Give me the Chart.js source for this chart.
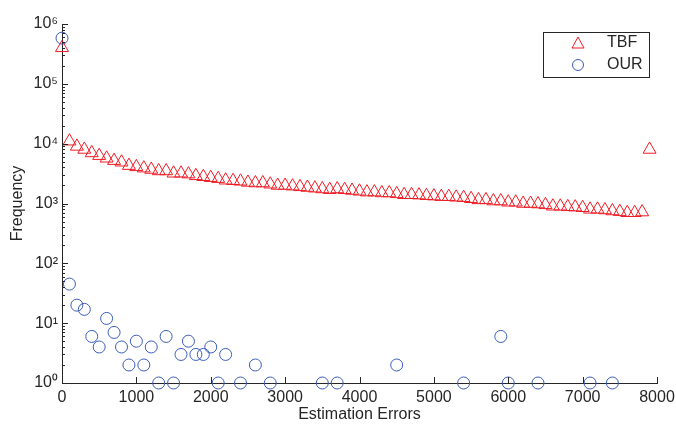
<!DOCTYPE html>
<html>
<head>
<meta charset="utf-8">
<script src="https://cdn.jsdelivr.net/npm/chart.js@4"></script>
<style>
  body { margin: 0; background: #fff; }
  #wrap { width: 676px; height: 424px; }
</style>
</head>
<body>
<div id="wrap"><canvas id="freq"></canvas></div>
<script>
// estimation error bins (x) and counts per method
var tbfErrors = [
    0, 100, 200, 300, 400, 500, 600, 700, 800, 900,
    1000, 1100, 1200, 1300, 1400, 1500, 1600, 1700, 1800, 1900,
    2000, 2100, 2200, 2300, 2400, 2500, 2600, 2700, 2800, 2900,
    3000, 3100, 3200, 3300, 3400, 3500, 3600, 3700, 3800, 3900,
    4000, 4100, 4200, 4300, 4400, 4500, 4600, 4700, 4800, 4900,
    5000, 5100, 5200, 5300, 5400, 5500, 5600, 5700, 5800, 5900,
    6000, 6100, 6200, 6300, 6400, 6500, 6600, 6700, 6800, 6900,
    7000, 7100, 7200, 7300, 7400, 7500, 7600, 7700, 7800, 7900
];
var tbfCounts = [
    400000, 11000, 9000, 8000, 7000, 6300, 5700, 5200, 4900, 4300,
    4100, 3900, 3700, 3500, 3500, 3200, 3200, 3100, 2900, 2800,
    2700, 2600, 2450, 2400, 2350, 2250, 2200, 2200, 2100, 2000,
    2000, 1950, 1900, 1850, 1800, 1750, 1700, 1750, 1700, 1650,
    1600, 1550, 1550, 1500, 1500, 1450, 1400, 1400, 1380, 1350,
    1330, 1300, 1300, 1270, 1250, 1200, 1150, 1150, 1100, 1100,
    1050, 1050, 1000, 1000, 980, 950, 900, 900, 880, 870,
    850, 800, 800, 780, 750, 730, 700, 700, 720, 8000
];
var ourErrors = [
    0, 100, 200, 300, 400, 500, 600, 700, 800, 900,
    1000, 1100, 1200, 1300, 1400, 1500, 1600, 1700, 1800, 1900,
    2000, 2100, 2200, 2400, 2600, 2800, 3500, 3700, 4500, 5400,
    5900, 6000, 6400, 7100, 7400
];
var ourCounts = [
    580000, 45, 20, 17, 6, 4, 12, 7, 4, 2,
    5, 2, 4, 1, 6, 1, 3, 5, 3, 3,
    4, 1, 3, 1, 2, 1, 1, 1, 2, 1,
    6, 1, 1, 1, 1
];
var xTicks = [0, 1000, 2000, 3000, 4000, 5000, 6000, 7000, 8000];
var yTicks = [1, 10, 100, 1000, 10000, 100000, 1000000];

var red = '#f01c24';
var blue = '#3b5cb8';
var ink = '#262626';
var fontFam = "'Liberation Sans', Arial, sans-serif";
var sup = ['\u2070', '\u00b9', '\u00b2', '\u00b3', '\u2074', '\u2075', '\u2076'];

function pts(xs, ys) {
    return xs.map(function (x, i) { return { x: x, y: ys[i] }; });
}

// inward ticks, minor log ticks and the boxed legend
var matlabBits = {
    id: 'matlabBits',
    afterDraw: function (chart) {
        var c = chart.ctx, xs = chart.scales.x, ys = chart.scales.y;
        var a = chart.chartArea;
        c.save();
        c.strokeStyle = ink;
        c.lineWidth = 1;
        c.beginPath();
        xTicks.forEach(function (v) {
            var px = Math.round(xs.getPixelForValue(v)) + 0.5;
            c.moveTo(px, a.bottom);
            c.lineTo(px, a.bottom - 6);
        });
        for (var e = 0; e < 6; e++) {
            for (var m = 1; m < 10; m++) {
                var py = Math.round(ys.getPixelForValue(m * Math.pow(10, e))) + 0.5;
                c.moveTo(a.left, py);
                c.lineTo(a.left + (m === 1 ? 6 : 3), py);
            }
        }
        var topPy = Math.round(ys.getPixelForValue(1e6)) + 0.5;
        c.moveTo(a.left, topPy);
        c.lineTo(a.left + 6, topPy);
        c.stroke();

        // legend box
        var lx = 543.5, ly = 32.5, lw = 106, lh = 45;
        c.fillStyle = '#fff';
        c.fillRect(lx, ly, lw, lh);
        c.strokeStyle = ink;
        c.strokeRect(lx, ly, lw, lh);
        c.font = '16px ' + fontFam;
        c.fillStyle = ink;
        c.textBaseline = 'middle';
        c.textAlign = 'left';
        c.fillText('TBF', 607, 43);
        c.fillText('OUR', 607, 65);
        c.lineWidth = 1;
        c.strokeStyle = red;
        c.beginPath();
        c.moveTo(578, 37);
        c.lineTo(584, 48);
        c.lineTo(572, 48);
        c.closePath();
        c.stroke();
        c.strokeStyle = blue;
        c.beginPath();
        c.arc(578, 65, 5.5, 0, Math.PI * 2);
        c.stroke();
        c.restore();
    }
};

var ctx = document.getElementById('freq').getContext('2d');
var freqChart = new Chart(ctx, {
    type: 'scatter',
    data: {
        datasets: [{
            label: 'TBF',
            data: pts(tbfErrors, tbfCounts),
            pointStyle: 'triangle',
            pointRadius: 7.5,
            borderColor: red,
            backgroundColor: 'rgba(0,0,0,0)',
            borderWidth: 1,
            clip: false
        }, {
            label: 'OUR',
            data: pts(ourErrors, ourCounts),
            pointStyle: 'circle',
            pointRadius: 6,
            borderColor: blue,
            backgroundColor: 'rgba(0,0,0,0)',
            borderWidth: 1,
            clip: false
        }]
    },
    options: {
        responsive: true,
        maintainAspectRatio: false,
        animation: false,
        layout: { padding: { left: 0, right: 19, top: 24, bottom: 0 } },
        plugins: {
            legend: { display: false },
            tooltip: { enabled: false }
        },
        scales: {
            x: {
                type: 'linear',
                min: 0,
                max: 8000,
                afterBuildTicks: function (s) {
                    s.ticks = xTicks.map(function (v) { return { value: v }; });
                },
                ticks: {
                    color: ink,
                    padding: 5,
                    maxRotation: 0,
                    font: { family: fontFam, size: 16 },
                    callback: function (v) { return String(v); }
                },
                grid: { display: false, drawTicks: false },
                border: { display: true, color: ink, width: 1 },
                title: {
                    display: true,
                    text: 'Estimation Errors',
                    color: ink,
                    padding: { top: 0, bottom: 0 },
                    font: { family: fontFam, size: 16 }
                },
                afterFit: function (s) {
                    s.height = 41;
                    s.paddingLeft = 0;
                    s.paddingRight = 0;
                }
            },
            y: {
                type: 'logarithmic',
                min: 1,
                max: 1000000,
                afterBuildTicks: function (s) {
                    s.ticks = yTicks.map(function (v) { return { value: v }; });
                },
                ticks: {
                    color: ink,
                    padding: 4,
                    font: { family: fontFam, size: 16 },
                    callback: function (v) {
                        return '10' + sup[Math.round(Math.log10(v))];
                    }
                },
                grid: { display: false, drawTicks: false },
                border: { display: true, color: ink, width: 1 },
                title: {
                    display: true,
                    text: 'Frequency',
                    color: ink,
                    padding: { top: 8, bottom: 0 },
                    font: { family: fontFam, size: 16 }
                },
                afterFit: function (s) { s.width = 62; }
            }
        }
    },
    plugins: [matlabBits]
});
</script>
</body>
</html>
